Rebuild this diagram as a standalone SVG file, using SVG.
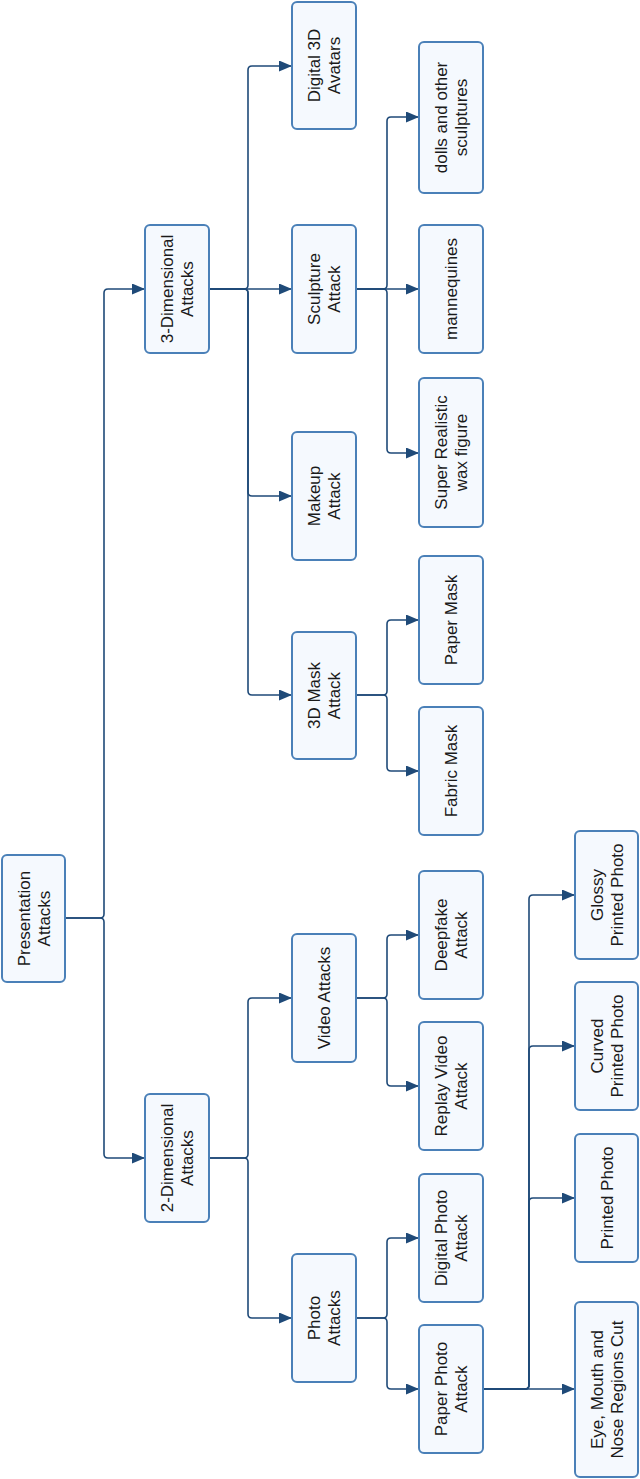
<svg xmlns="http://www.w3.org/2000/svg" width="640" height="1479" viewBox="0 0 640 1479">
<style>
.box{fill:#f5f9fe;stroke:#4a80b8;stroke-width:2}
.t{font-family:"Liberation Sans",Arial,sans-serif;font-size:17px;fill:#1a1a1a;text-anchor:middle}
.c{fill:none;stroke:#1f4a78;stroke-width:1.6}
</style>
<defs>
<marker id="arr" markerUnits="userSpaceOnUse" markerWidth="14" markerHeight="12" refX="13" refY="5.5" orient="auto">
<path d="M0,0 L13,5.5 L0,11 z" fill="#1f4a78"/>
</marker>
</defs>
<rect width="640" height="1479" fill="#ffffff"/>
<g id="connectors">
<path class="c" marker-end="url(#arr)" d="M65,918 H100 Q104,918 104,914 V293 Q104,289 108,289 H145"/>
<path class="c" marker-end="url(#arr)" d="M65,918 H100 Q104,918 104,922 V1154 Q104,1158 108,1158 H145"/>
<path class="c" marker-end="url(#arr)" d="M209,289 H244 Q248,289 248,285 V70 Q248,66 252,66 H292"/>
<path class="c" marker-end="url(#arr)" d="M209,289 H292"/>
<path class="c" marker-end="url(#arr)" d="M209,289 H244 Q248,289 248,293 V492 Q248,496 252,496 H292"/>
<path class="c" marker-end="url(#arr)" d="M209,289 H244 Q248,289 248,293 V691 Q248,695 252,695 H292"/>
<path class="c" marker-end="url(#arr)" d="M356,289 H383 Q387,289 387,285 V121 Q387,117 391,117 H419"/>
<path class="c" marker-end="url(#arr)" d="M356,289 H419"/>
<path class="c" marker-end="url(#arr)" d="M356,289 H383 Q387,289 387,293 V449 Q387,453 391,453 H419"/>
<path class="c" marker-end="url(#arr)" d="M356,695 H383 Q387,695 387,691 V624 Q387,620 391,620 H419"/>
<path class="c" marker-end="url(#arr)" d="M356,695 H383 Q387,695 387,699 V767 Q387,771 391,771 H419"/>
<path class="c" marker-end="url(#arr)" d="M209,1158 H244 Q248,1158 248,1154 V1002 Q248,998 252,998 H292"/>
<path class="c" marker-end="url(#arr)" d="M209,1158 H244 Q248,1158 248,1162 V1314 Q248,1318 252,1318 H292"/>
<path class="c" marker-end="url(#arr)" d="M356,998 H383 Q387,998 387,994 V939 Q387,935 391,935 H419"/>
<path class="c" marker-end="url(#arr)" d="M356,998 H383 Q387,998 387,1002 V1082 Q387,1086 391,1086 H419"/>
<path class="c" marker-end="url(#arr)" d="M356,1318 H383 Q387,1318 387,1314 V1242 Q387,1238 391,1238 H419"/>
<path class="c" marker-end="url(#arr)" d="M356,1318 H383 Q387,1318 387,1322 V1385 Q387,1389 391,1389 H419"/>
<path class="c" marker-end="url(#arr)" d="M483,1389 H525 Q529,1389 529,1385 V899 Q529,895 533,895 H575"/>
<path class="c" marker-end="url(#arr)" d="M483,1389 H525 Q529,1389 529,1385 V1050 Q529,1046 533,1046 H575"/>
<path class="c" marker-end="url(#arr)" d="M483,1389 H525 Q529,1389 529,1385 V1202 Q529,1198 533,1198 H575"/>
<path class="c" marker-end="url(#arr)" d="M483,1389 H575"/>
</g>
<g id="presentation-attacks"><rect class="box" x="2" y="855" width="63" height="127" rx="5"/><g transform="translate(33.5,918.5) rotate(-90)"><text class="t" y="-4">Presentation</text><text class="t" y="16">Attacks</text></g></g>
<g id="3d-attacks"><rect class="box" x="145" y="225" width="64" height="128" rx="5"/><g transform="translate(177,289) rotate(-90)"><text class="t" y="-4">3-Dimensional</text><text class="t" y="16">Attacks</text></g></g>
<g id="2d-attacks"><rect class="box" x="145" y="1094" width="64" height="128" rx="5"/><g transform="translate(177,1158) rotate(-90)"><text class="t" y="-4">2-Dimensional</text><text class="t" y="16">Attacks</text></g></g>
<g id="digital-3d-avatars"><rect class="box" x="292" y="2" width="64" height="127" rx="5"/><g transform="translate(324,65.5) rotate(-90)"><text class="t" y="-4">Digital 3D</text><text class="t" y="16">Avatars</text></g></g>
<g id="sculpture-attack"><rect class="box" x="292" y="225" width="64" height="128" rx="5"/><g transform="translate(324,289) rotate(-90)"><text class="t" y="-4">Sculpture</text><text class="t" y="16">Attack</text></g></g>
<g id="makeup-attack"><rect class="box" x="292" y="432" width="64" height="128" rx="5"/><g transform="translate(324,496) rotate(-90)"><text class="t" y="-4">Makeup</text><text class="t" y="16">Attack</text></g></g>
<g id="3d-mask-attack"><rect class="box" x="292" y="632" width="64" height="127" rx="5"/><g transform="translate(324,695.5) rotate(-90)"><text class="t" y="-4">3D Mask</text><text class="t" y="16">Attack</text></g></g>
<g id="dolls"><rect class="box" x="419" y="42" width="64" height="151" rx="5"/><g transform="translate(451,117.5) rotate(-90)"><text class="t" y="-4">dolls and other</text><text class="t" y="16">sculptures</text></g></g>
<g id="mannequines"><rect class="box" x="419" y="225" width="64" height="128" rx="5"/><g transform="translate(451,289) rotate(-90)"><text class="t" y="6">mannequines</text></g></g>
<g id="wax-figure"><rect class="box" x="419" y="378" width="64" height="149" rx="5"/><g transform="translate(451,452.5) rotate(-90)"><text class="t" y="-4">Super Realistic</text><text class="t" y="16">wax figure</text></g></g>
<g id="paper-mask"><rect class="box" x="419" y="556" width="64" height="128" rx="5"/><g transform="translate(451,620) rotate(-90)"><text class="t" y="6">Paper Mask</text></g></g>
<g id="fabric-mask"><rect class="box" x="419" y="707" width="64" height="128" rx="5"/><g transform="translate(451,771) rotate(-90)"><text class="t" y="6">Fabric Mask</text></g></g>
<g id="video-attacks"><rect class="box" x="292" y="934" width="64" height="128" rx="5"/><g transform="translate(324,998) rotate(-90)"><text class="t" y="6">Video Attacks</text></g></g>
<g id="photo-attacks"><rect class="box" x="292" y="1254" width="64" height="128" rx="5"/><g transform="translate(324,1318) rotate(-90)"><text class="t" y="-4">Photo</text><text class="t" y="16">Attacks</text></g></g>
<g id="deepfake-attack"><rect class="box" x="419" y="871" width="64" height="128" rx="5"/><g transform="translate(451,935) rotate(-90)"><text class="t" y="-4">Deepfake</text><text class="t" y="16">Attack</text></g></g>
<g id="replay-video-attack"><rect class="box" x="419" y="1022" width="64" height="128" rx="5"/><g transform="translate(451,1086) rotate(-90)"><text class="t" y="-4">Replay Video</text><text class="t" y="16">Attack</text></g></g>
<g id="digital-photo-attack"><rect class="box" x="419" y="1174" width="64" height="128" rx="5"/><g transform="translate(451,1238) rotate(-90)"><text class="t" y="-4">Digital Photo</text><text class="t" y="16">Attack</text></g></g>
<g id="paper-photo-attack"><rect class="box" x="419" y="1325" width="64" height="128" rx="5"/><g transform="translate(451,1389) rotate(-90)"><text class="t" y="-4">Paper Photo</text><text class="t" y="16">Attack</text></g></g>
<g id="glossy-printed-photo"><rect class="box" x="575" y="831" width="63" height="128" rx="5"/><g transform="translate(606.5,895) rotate(-90)"><text class="t" y="-4">Glossy</text><text class="t" y="16">Printed Photo</text></g></g>
<g id="curved-printed-photo"><rect class="box" x="575" y="982" width="63" height="128" rx="5"/><g transform="translate(606.5,1046) rotate(-90)"><text class="t" y="-4">Curved</text><text class="t" y="16">Printed Photo</text></g></g>
<g id="printed-photo"><rect class="box" x="575" y="1134" width="63" height="128" rx="5"/><g transform="translate(606.5,1198) rotate(-90)"><text class="t" y="6">Printed Photo</text></g></g>
<g id="eye-mouth-nose"><rect class="box" x="575" y="1302" width="63" height="175" rx="5"/><g transform="translate(606.5,1389.5) rotate(-90)"><text class="t" y="-4">Eye, Mouth and</text><text class="t" y="16">Nose Regions Cut</text></g></g>
</svg>
